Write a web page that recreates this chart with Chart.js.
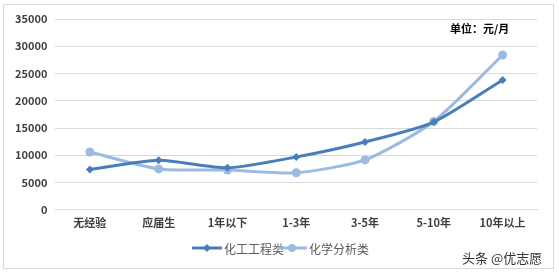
<!DOCTYPE html>
<html>
<head>
<meta charset="utf-8">
<script src="https://cdn.jsdelivr.net/npm/chart.js@4/dist/chart.umd.min.js"></script>
<style>
  html, body { margin: 0; padding: 0; background: #fff; }
  #wrap { position: relative; width: 559px; height: 275px; overflow: hidden; }
  #frame { position: absolute; left: 3px; top: 4px; width: 549px; height: 263px; border: 1px solid #d9d9d9; pointer-events: none; }
  #unit { position: absolute; left: 450px; top: 20px; font: bold 11px "Noto Sans CJK SC", sans-serif; color: #000; }
  #mark { position: absolute; left: 462px; top: 248px; font: 13px "Noto Sans CJK SC", sans-serif; color: #333; }
</style>
</head>
<body>
<div id="wrap">
  <canvas id="myChart" width="559" height="275"></canvas>
  <div id="frame"></div>
  <div id="unit">单位：元/月</div>
  <div id="mark">头条 @优志愿</div>
</div>
<script>
const categories = ['无经验', '应届生', '1年以下', '1-3年', '3-5年', '5-10年', '10年以上'];
const seriesNames = ['化工工程类', '化学分析类'];
const chemEngineering = [7400, 9100, 7700, 9700, 12450, 16100, 23800];
const chemAnalysis = [10600, 7500, 7300, 6800, 9150, 16200, 28400];
const yTicks = [0, 5000, 10000, 15000, 20000, 25000, 30000, 35000];

const darkBlue = '#4a7ebb';
const lightBlue = '#9bbbe2';
const labelFont = { family: '"Noto Sans CJK SC", sans-serif', size: 11, weight: 'bold' };

// legend with line + marker, drawn under the chart
const lineLegend = {
    id: 'lineLegend',
    afterDraw(chart) {
        const ctx = chart.ctx;
        const y = 248;
        const items = [
            { x: 192, color: darkBlue, style: 'diamond', text: seriesNames[0] },
            { x: 277, color: lightBlue, style: 'circle', text: seriesNames[1] }
        ];
        ctx.save();
        items.forEach(it => {
            ctx.strokeStyle = it.color;
            ctx.lineWidth = 3;
            ctx.beginPath();
            ctx.moveTo(it.x, y);
            ctx.lineTo(it.x + 30, y);
            ctx.stroke();
            ctx.fillStyle = it.color;
            ctx.beginPath();
            if (it.style === 'circle') {
                ctx.arc(it.x + 15, y, 4, 0, Math.PI * 2);
            } else {
                ctx.moveTo(it.x + 15, y - 4);
                ctx.lineTo(it.x + 19, y);
                ctx.lineTo(it.x + 15, y + 4);
                ctx.lineTo(it.x + 11, y);
                ctx.closePath();
            }
            ctx.fill();
            ctx.fillStyle = '#595959';
            ctx.font = '12px "Noto Sans CJK SC", sans-serif';
            ctx.textBaseline = 'middle';
            ctx.fillText(it.text, it.x + 32, y + 1);
        });
        ctx.restore();
    }
};

const ctx = document.getElementById('myChart').getContext('2d');
new Chart(ctx, {
    type: 'line',
    data: {
        labels: categories,
        datasets: [
            {
                label: seriesNames[0],
                data: chemEngineering,
                borderColor: darkBlue,
                backgroundColor: darkBlue,
                borderWidth: 3,
                pointStyle: 'rectRot',
                pointRadius: 4,
                pointBorderWidth: 0,
                tension: 0.22
            },
            {
                label: seriesNames[1],
                data: chemAnalysis,
                borderColor: lightBlue,
                backgroundColor: lightBlue,
                borderWidth: 3,
                pointStyle: 'circle',
                pointRadius: 4.5,
                pointBorderWidth: 0,
                tension: 0.22
            }
        ]
    },
    options: {
        responsive: false,
        animation: false,
        layout: { padding: { left: 7, top: 19, right: 22, bottom: 40 } },
        plugins: { legend: { display: false }, tooltip: { enabled: false } },
        scales: {
            x: {
                offset: true,
                grid: { display: false, drawTicks: false },
                border: { color: '#d9d9d9' },
                ticks: { font: labelFont, color: '#404040', padding: 6, maxRotation: 0 }
            },
            y: {
                min: 0,
                max: 35000,
                afterBuildTicks(axis) { axis.ticks = yTicks.map(v => ({ value: v })); },
                grid: { color: '#d9d9d9', drawTicks: false },
                border: { display: false },
                ticks: { font: labelFont, color: '#404040', padding: 8, callback: v => String(v) }
            }
        }
    },
    plugins: [lineLegend]
});
</script>
</body>
</html>
